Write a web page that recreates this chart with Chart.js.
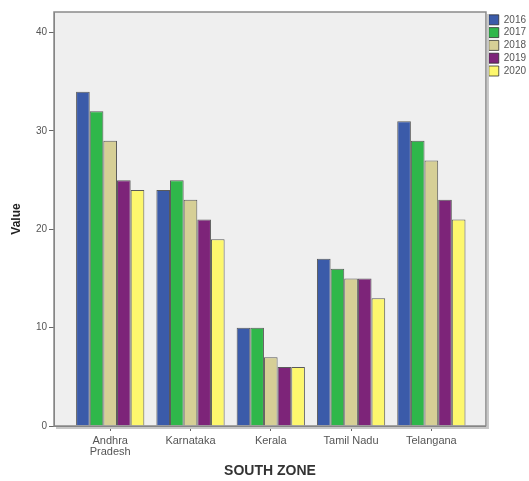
<!DOCTYPE html>
<html>
<head>
<meta charset="utf-8">
<script src="https://cdn.jsdelivr.net/npm/chart.js@4.4.0/dist/chart.umd.min.js"></script>
<style>
html,body{margin:0;padding:0;background:#fff;overflow:hidden;}
#wrap{width:536px;height:481px;position:relative;}
</style>
</head>
<body>
<div id="wrap"><canvas id="chart"></canvas></div>
<script>
// categories + series
var states = [["Andhra", "Pradesh"], "Karnataka", "Kerala", "Tamil Nadu", "Telangana"];
var years = ["2016", "2017", "2018", "2019", "2020"];
var v2016 = [34, 24, 10, 17, 31];
var v2017 = [32, 25, 10, 16, 29];
var v2018 = [29, 23, 7, 15, 27];
var v2019 = [25, 21, 6, 15, 23];
var v2020 = [24, 19, 6, 13, 21];
var yTicks = [0, 10, 20, 30, 40];

var colors = ["#3b5ba9", "#2fb74a", "#d6cf96", "#7d2479", "#fdf76d"];
var series = [v2016, v2017, v2018, v2019, v2020];

Chart.defaults.font.family = "'Liberation Sans', Arial, sans-serif";

function pts(vals){
	return vals.map(function(v, i){ return {x: i + 1, y: v}; });
}

var datasets = [];
for (var i = 0; i < years.length; i++) {
	datasets.push({
		label: years[i],
		data: pts(series[i]),
		backgroundColor: colors[i],
		borderColor: "rgba(40,40,40,0.75)",
		borderWidth: 1,
		barPercentage: 1,
		categoryPercentage: 0.85
	});
}

// grey plot background + frame like the SPSS output
var framePlugin = {
	id: "frame",
	beforeDraw: function(chart){
		var a = chart.chartArea, ctx = chart.ctx;
		ctx.save();
		ctx.fillStyle = "#efefef";
		ctx.fillRect(a.left, a.top, a.right - a.left, a.bottom - a.top);
		ctx.restore();
	},
	afterDraw: function(chart){
		var a = chart.chartArea, ctx = chart.ctx;
		ctx.save();
		ctx.strokeStyle = "#c8c8c8";
		ctx.lineWidth = 2;
		ctx.beginPath();
		ctx.moveTo(a.right + 2, a.top + 2);
		ctx.lineTo(a.right + 2, a.bottom + 2);
		ctx.lineTo(a.left + 2, a.bottom + 2);
		ctx.stroke();
		ctx.strokeStyle = "#8a8a8a";
		ctx.lineWidth = 1.5;
		ctx.strokeRect(a.left, a.top, a.right - a.left, a.bottom - a.top);
		ctx.restore();
	}
};

new Chart(document.getElementById("chart"), {
	type: "bar",
	data: {datasets: datasets},
	plugins: [framePlugin],
	options: {
		responsive: true,
		maintainAspectRatio: false,
		animation: false,
		layout: {padding: {top: 12, left: 0, right: 0, bottom: 1}},
		plugins: {
			tooltip: {enabled: false},
			legend: {
				position: "right",
				align: "start",
				labels: {
					boxWidth: 10,
					boxHeight: 10,
					padding: 2.8,
					color: "#555",
					font: {size: 10}
				}
			}
		},
		scales: {
			x: {
				type: "linear",
				offset: false,
				min: 0.3,
				max: 5.68,
				grid: {drawOnChartArea: false, offset: false, tickLength: 5, color: "#666"},
				border: {color: "#777"},
				afterFit: function(scale){ scale.height = 54; },
				ticks: {
					stepSize: 1,
					includeBounds: false,
					autoSkip: false,
					maxRotation: 0,
					padding: 4,
					color: "#555",
					font: {size: 11, lineHeight: 1.0},
					callback: function(value){
						return Number.isInteger(value) && value >= 1 && value <= states.length ? states[value - 1] : "";
					}
				},
				title: {
					display: true,
					text: "SOUTH ZONE",
					color: "#333",
					font: {size: 14, weight: "bold"},
					padding: {top: 10, bottom: 0}
				}
			},
			y: {
				min: 0,
				max: 42.1,
				grid: {drawOnChartArea: false, tickLength: 5, color: "#666"},
				border: {color: "#777"},
				afterFit: function(scale){ scale.width = 54; },
				afterBuildTicks: function(scale){
					scale.ticks = yTicks.map(function(v){ return {value: v}; });
				},
				ticks: {
					padding: 2,
					color: "#555",
					font: {size: 10}
				},
				title: {
					display: true,
					text: "Value",
					color: "#222",
					font: {size: 12, weight: "bold"},
					padding: {top: 9, bottom: 0}
				}
			}
		}
	}
});
</script>
</body>
</html>
